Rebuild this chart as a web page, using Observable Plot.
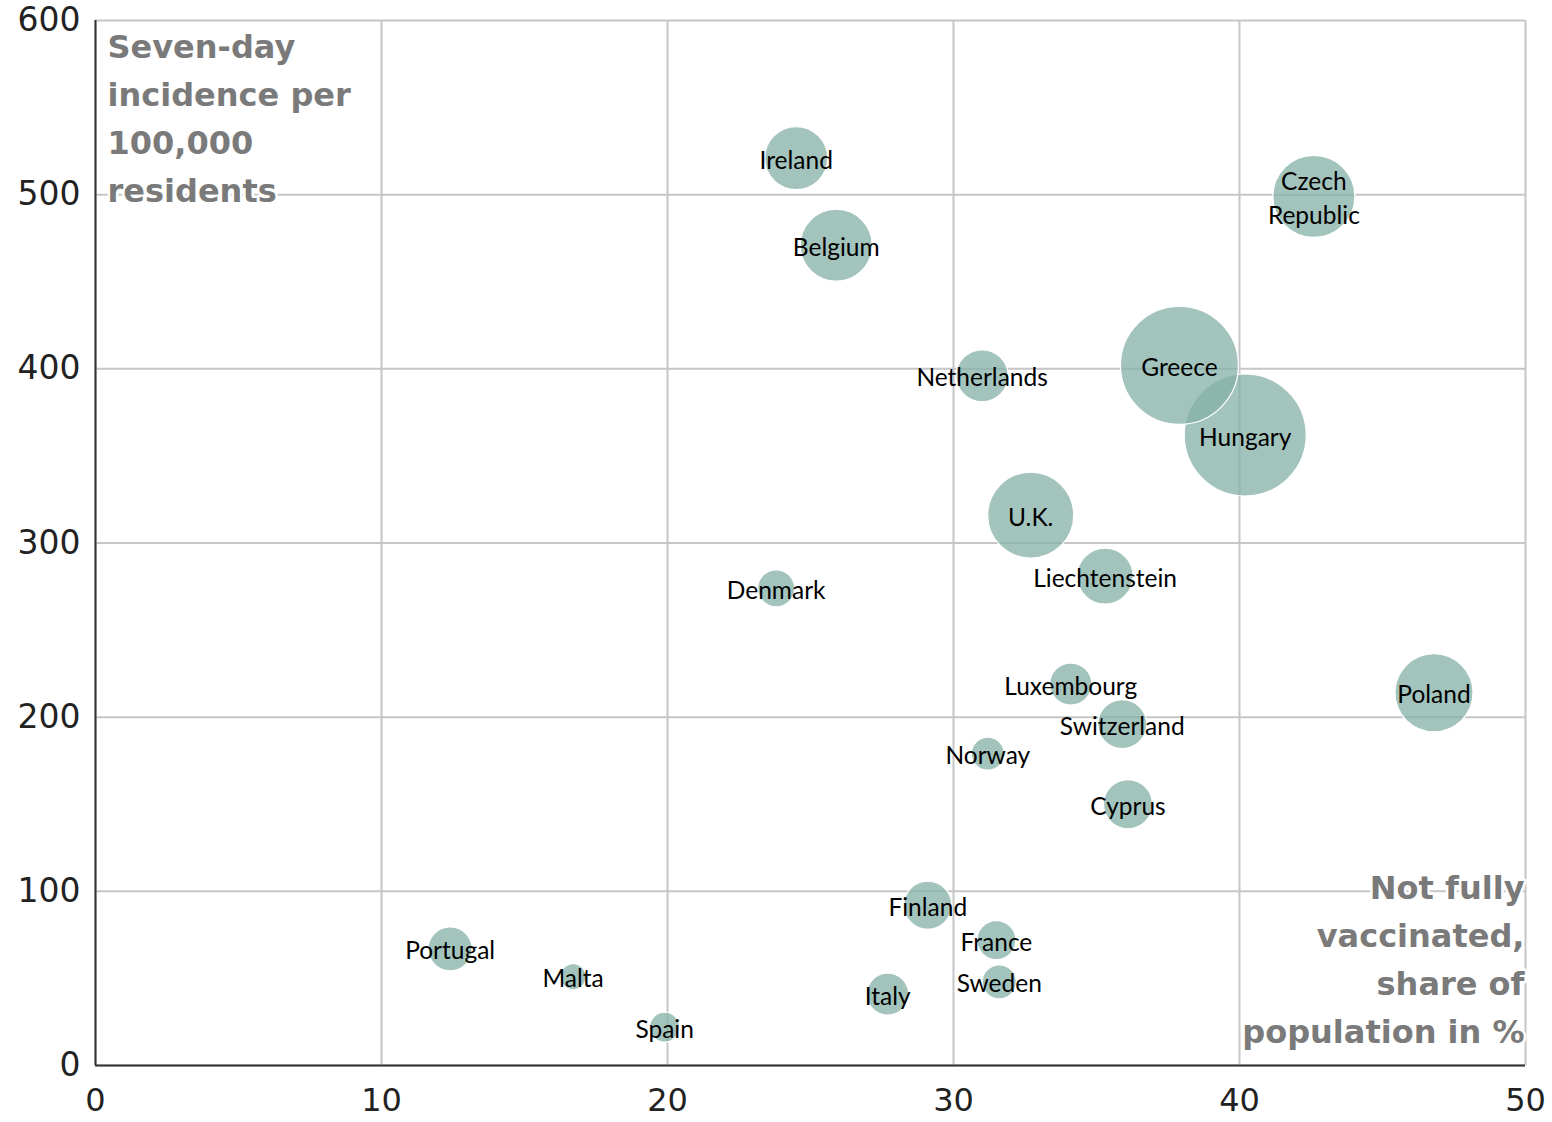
<!DOCTYPE html>
<html>
<head>
<meta charset="utf-8">
<script src="https://cdn.jsdelivr.net/npm/d3@7"></script>
<script src="https://cdn.jsdelivr.net/npm/@observablehq/plot@0.6"></script>
<style>
  html, body { margin: 0; padding: 0; background: #fff; }
  #chart svg { display: block; }
</style>
</head>
<body>
<div id="chart"></div>
<script>
const countries = ["Ireland","Belgium","Czech Republic","Hungary","Greece","Netherlands","U.K.","Liechtenstein","Denmark","Luxembourg","Switzerland","Norway","Cyprus","Poland","Finland","France","Sweden","Italy","Portugal","Malta","Spain"];
const notVaccinated = [24.5, 25.9, 42.6, 40.2, 37.9, 31.0, 32.7, 35.3, 23.8, 34.1, 35.9, 31.2, 36.1, 46.8, 29.1, 31.5, 31.6, 27.7, 12.4, 16.7, 19.9];
const incidence = [521, 471, 499, 362, 402, 396, 316, 281, 274, 219, 196, 179, 150, 214, 92, 72, 48, 41, 67, 51, 22];
const bubbleSize = [26.7, 34.8, 45.2, 100, 93.5, 18.2, 49.7, 21.1, 9.2, 11.9, 16.1, 7.3, 16.1, 40.9, 15.5, 10.2, 7.8, 11.9, 13.0, 4.5, 6.0];
const xTicks = [0, 10, 20, 30, 40, 50];
const yTicks = [0, 100, 200, 300, 400, 500, 600];
const yTitle = "Seven-day\nincidence per\n100,000\nresidents";
const xTitle = "Not fully\nvaccinated,\nshare of\npopulation in %";

const data = countries.map((c, i) => ({
  country: c,
  label: c === "Czech Republic" ? "Czech\nRepublic" : c,
  x: notVaccinated[i],
  y: incidence[i],
  size: bubbleSize[i]
}));

const chart = Plot.plot({
  width: 1552,
  height: 1122,
  marginLeft: 95,
  marginRight: 27,
  marginTop: 20,
  marginBottom: 57,
  style: { background: "#fff", fontFamily: "DejaVu Sans" },
  x: { domain: [0, 50], ticks: xTicks },
  y: { domain: [0, 600], ticks: yTicks },
  r: { type: "sqrt", domain: [0, 100], range: [0, 61] },
  marks: [
    Plot.gridX(xTicks, { stroke: "#c6c6c6", strokeOpacity: 1, strokeWidth: 2 }),
    Plot.gridY(yTicks, { stroke: "#c6c6c6", strokeOpacity: 1, strokeWidth: 2 }),
    Plot.text([yTitle], {
      frameAnchor: "top-left", textAnchor: "start", lineAnchor: "top",
      dx: 12, dy: 3, lineHeight: 1.5,
      fontFamily: "DejaVu Sans", fontWeight: "bold", fontSize: 32,
      fill: "#7a7a7a", stroke: "white", strokeWidth: 5
    }),
    Plot.text([xTitle], {
      frameAnchor: "bottom-right", textAnchor: "end", lineAnchor: "bottom",
      dx: -1, dy: -23, lineHeight: 1.5,
      fontFamily: "DejaVu Sans", fontWeight: "bold", fontSize: 32,
      fill: "#7a7a7a", stroke: "white", strokeWidth: 5
    }),
    Plot.ruleX([0], { stroke: "#333", strokeWidth: 2 }),
    Plot.ruleY([0], { stroke: "#333", strokeWidth: 2 }),
    Plot.dot(data, {
      x: "x", y: "y", r: "size",
      fill: "#84b0a6", fillOpacity: 0.75,
      stroke: "white", strokeWidth: 1.2
    }),
    Plot.text(data, {
      x: "x", y: "y", text: "label",
      fontFamily: "Lato", fontSize: 24.5, fill: "#000",
      lineHeight: 1.35
    }),
    Plot.axisX(xTicks, {
      tickSize: 0, tickPadding: 23, fontSize: 32, label: null,
      fill: "#222", fontFamily: "DejaVu Sans"
    }),
    Plot.axisY(yTicks, {
      tickSize: 0, tickPadding: 15, fontSize: 33, label: null,
      fill: "#222", fontFamily: "DejaVu Sans"
    })
  ]
});
document.getElementById("chart").appendChild(chart);
</script>
</body>
</html>
